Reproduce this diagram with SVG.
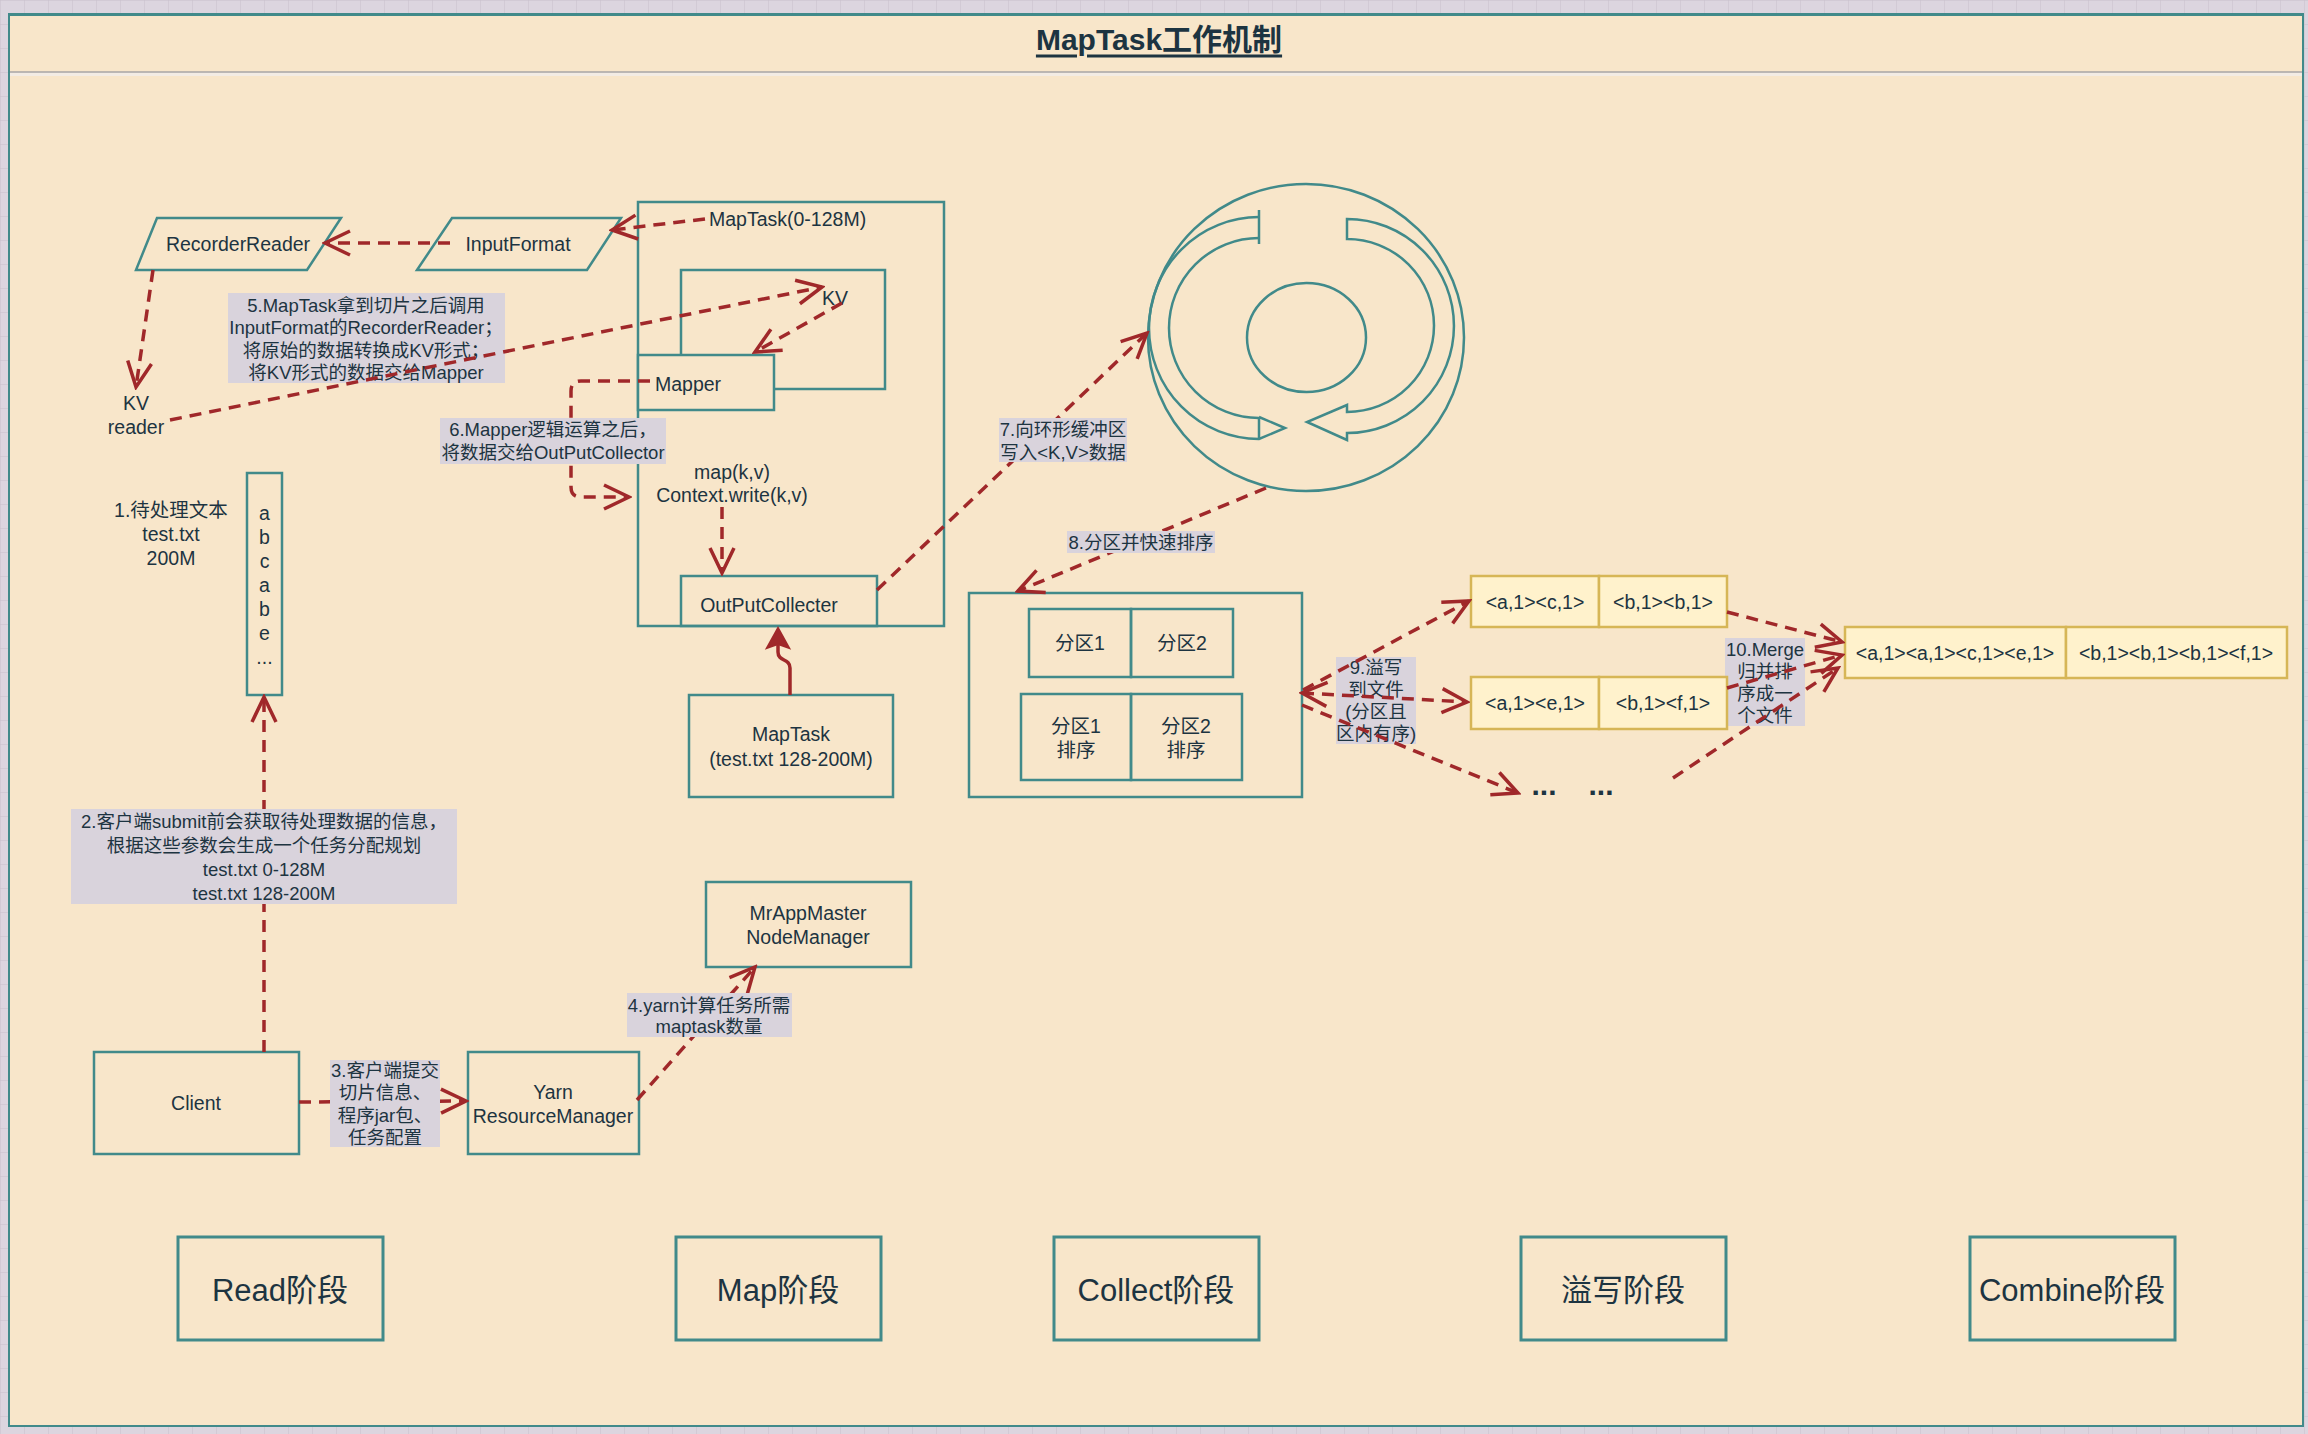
<svg xmlns="http://www.w3.org/2000/svg" width="2308" height="1434" viewBox="0 0 2308 1434">
<defs>
<style>
text{font-family:"Liberation Sans","Noto Sans CJK SC",sans-serif;fill:#1d3441;}
.n{font-size:19.5px;text-anchor:middle;dominant-baseline:central;}
.l{font-size:18.5px;text-anchor:middle;dominant-baseline:central;}
.st{font-size:31px;text-anchor:middle;dominant-baseline:central;}
.box{fill:none;stroke:#418a8a;stroke-width:2.5;}
.stage{fill:none;stroke:#418a8a;stroke-width:3;}
.file{fill:#fff2cc;stroke:#d6b656;stroke-width:2.5;}
.lbg{fill:#d9d3dc;}
.e{fill:none;stroke:#a0282a;stroke-width:3.5;stroke-dasharray:12 8;}
.s{fill:none;stroke:#a0282a;stroke-width:3.5;}
.dots{font-size:30px;font-weight:bold;text-anchor:middle;dominant-baseline:central;}
</style>
<marker id="oa" viewBox="0 0 32 32" refX="29" refY="16" markerWidth="32" markerHeight="32" orient="auto-start-reverse" markerUnits="userSpaceOnUse">
<path d="M4 4 L29 16 L4 28" fill="none" stroke="#a0282a" stroke-width="3.5" stroke-dasharray="none"/>
</marker>
<pattern id="grid" width="24" height="24" patternUnits="userSpaceOnUse">
<rect width="24" height="24" fill="#dcd5df"/>
<path d="M0 0 V24 M0 0 H24" stroke="#c8c0cb" stroke-width="1"/>
</pattern>
</defs>

<rect x="0" y="0" width="2308" height="1434" fill="url(#grid)"/>
<rect x="9" y="14" width="2294" height="1412" fill="#f8e6ca" stroke="#418a8a" stroke-width="2"/>
<line x1="9" y1="14.5" x2="2303" y2="14.5" stroke="#418a8a" stroke-width="3"/>
<rect x="10" y="72" width="2292" height="4" fill="#f3ece4"/>
<line x1="10" y1="72" x2="2302" y2="72" stroke="#a9a6a6" stroke-width="1.5"/>

<g id="title">
<text x="1159" y="39" style="font-size:30px;font-weight:bold;text-anchor:middle;dominant-baseline:central;text-decoration:underline;">MapTask工作机制</text>
</g>

<g id="labels-under">
<g id="label5"><rect class="lbg" x="228" y="293" width="277" height="90"/>
<text class="l" x="366" y="305">5.MapTask拿到切片之后调用</text>
<text class="l" x="366" y="327">InputFormat的RecorderReader；</text>
<text class="l" x="366" y="350">将原始的数据转换成KV形式；</text>
<text class="l" x="366" y="372">将KV形式的数据交给Mapper</text></g>
<g id="label9"><rect class="lbg" x="1336" y="657" width="80" height="87"/>
<text class="l" x="1376" y="667">9.溢写</text>
<text class="l" x="1376" y="689">到文件</text>
<text class="l" x="1376" y="711">(分区且</text>
<text class="l" x="1376" y="733">区内有序)</text></g>
<g id="label10"><rect class="lbg" x="1725" y="638" width="80" height="88"/>
<text class="l" x="1765" y="649">10.Merge</text>
<text class="l" x="1765" y="671">归并排</text>
<text class="l" x="1765" y="693">序成一</text>
<text class="l" x="1765" y="715">个文件</text></g>
</g>

<g id="recorderreader"><polygon class="box" points="157,218 341,218 307,270 136,270"/><text class="n" x="238" y="244">RecorderReader</text></g>
<g id="inputformat"><polygon class="box" points="452,218 621,218 587,270 417,270"/><text class="n" x="518" y="244">InputFormat</text></g>
<g id="kvreader"><text class="n" x="136" y="403">KV</text><text class="n" x="136" y="427">reader</text></g>

<g id="maptask1"><rect class="box" x="638" y="202" width="306" height="424"/><text x="709" y="219" style="font-size:19.5px;dominant-baseline:central;">MapTask(0-128M)</text></g>
<g id="kvbox"><rect class="box" x="681" y="270" width="204" height="119"/><text class="n" x="835" y="298">KV</text></g>
<g id="mapper"><rect x="638" y="355" width="136" height="55" fill="#f8e6ca" stroke="#418a8a" stroke-width="2.5"/><text x="655" y="384" style="font-size:19.5px;dominant-baseline:central;">Mapper</text></g>
<g id="mapfunc"><text class="n" x="732" y="472">map(k,v)</text><text class="n" x="732" y="495">Context.write(k,v)</text></g>
<g id="outputcollecter"><rect class="box" x="681" y="576" width="196" height="50"/><text class="n" x="769" y="605">OutPutCollecter</text></g>
<g id="maptask2"><rect class="box" x="689" y="695" width="204" height="102"/><text class="n" x="791" y="734">MapTask</text><text class="n" x="791" y="759">(test.txt 128-200M)</text></g>

<g id="textfile"><text class="n" x="171" y="510">1.待处理文本</text><text class="n" x="171" y="534">test.txt</text><text class="n" x="171" y="558">200M</text></g>
<g id="textbox"><rect class="box" x="247" y="473" width="35" height="222"/>
<text class="n" x="264.5" y="513">a</text><text class="n" x="264.5" y="537">b</text><text class="n" x="264.5" y="561">c</text><text class="n" x="264.5" y="585">a</text><text class="n" x="264.5" y="609">b</text><text class="n" x="264.5" y="633">e</text><text class="n" x="264.5" y="657">...</text></g>

<g id="ringbuffer">
<ellipse class="box" cx="1306" cy="337.5" rx="158" ry="153.5"/>
<ellipse class="box" cx="1306.5" cy="337.5" rx="59.5" ry="54.5"/>
<path class="box" d="M1259 217 A110 111 0 0 0 1259 439 L1285 428 L1259 417"/>
<path class="box" d="M1259 238 A90 90 0 0 0 1259 418"/>
<path class="box" d="M1259 210 L1259 244 M1259 417 L1259 439"/>
<path class="box" d="M1347 219 A107 107 0 0 1 1347 433 L1347 440 L1307 422 L1347 405 L1347 412 A87 86.5 0 0 0 1347 239 Z"/>
</g>

<g id="partition"><rect class="box" x="969" y="593" width="333" height="204"/></g>
<g id="part1"><rect class="box" x="1029" y="609" width="102" height="68"/><text class="n" x="1080" y="643">分区1</text></g>
<g id="part2"><rect class="box" x="1131" y="609" width="102" height="68"/><text class="n" x="1182" y="643">分区2</text></g>
<g id="sort1"><rect class="box" x="1021" y="694" width="110" height="86"/><text class="n" x="1076" y="726">分区1</text><text class="n" x="1076" y="750">排序</text></g>
<g id="sort2"><rect class="box" x="1131" y="694" width="111" height="86"/><text class="n" x="1186" y="726">分区2</text><text class="n" x="1186" y="750">排序</text></g>

<g id="file1"><rect class="file" x="1471" y="576" width="128" height="51"/><rect class="file" x="1599" y="576" width="128" height="51"/>
<text class="n" x="1535" y="602">&lt;a,1&gt;&lt;c,1&gt;</text><text class="n" x="1663" y="602">&lt;b,1&gt;&lt;b,1&gt;</text></g>
<g id="file2"><rect class="file" x="1471" y="677" width="128" height="52"/><rect class="file" x="1599" y="677" width="128" height="52"/>
<text class="n" x="1535" y="703">&lt;a,1&gt;&lt;e,1&gt;</text><text class="n" x="1663" y="703">&lt;b,1&gt;&lt;f,1&gt;</text></g>
<g id="fileetc"><text class="dots" x="1544" y="784">...</text><text class="dots" x="1601" y="784">...</text></g>
<g id="merged"><rect class="file" x="1845" y="627" width="221" height="51"/><rect class="file" x="2066" y="627" width="221" height="51"/>
<text class="n" x="1955" y="653">&lt;a,1&gt;&lt;a,1&gt;&lt;c,1&gt;&lt;e,1&gt;</text><text class="n" x="2176" y="653">&lt;b,1&gt;&lt;b,1&gt;&lt;b,1&gt;&lt;f,1&gt;</text></g>

<g id="client"><rect class="box" x="94" y="1052" width="205" height="102"/><text class="n" x="196" y="1103">Client</text></g>
<g id="yarn"><rect class="box" x="468" y="1052" width="171" height="102"/><text class="n" x="553" y="1092">Yarn</text><text class="n" x="553" y="1116">ResourceManager</text></g>
<g id="mrappmaster"><rect class="box" x="706" y="882" width="205" height="85"/><text class="n" x="808" y="913">MrAppMaster</text><text class="n" x="808" y="937">NodeManager</text></g>

<g id="connectors">
<path class="e" d="M705 219 L612 230" marker-end="url(#oa)"/>
<path class="e" d="M450 243 L325 243" marker-end="url(#oa)"/>
<path class="e" d="M153 270 L136 387" marker-end="url(#oa)"/>
<path class="e" d="M170 420 L822 287" marker-end="url(#oa)"/>
<path class="e" d="M842 303 L755 352" marker-end="url(#oa)"/>
<path class="e" d="M650 381 L581 381 Q571 381 571 391 L571 487 Q571 497 581 497 L629 497" marker-end="url(#oa)"/>
<path class="e" d="M722 507 L722 573" marker-end="url(#oa)"/>
<path class="s" d="M790 695 L790 668 C790 658 778 662 778 652 L778 644"/>
<polygon points="778,628 789,648 778,644 767,648" fill="#a0282a" stroke="#a0282a" stroke-width="2"/>
<path class="e" d="M877 590 L1147 333" marker-end="url(#oa)"/>
<path class="e" d="M1266 488 L1018 591" marker-end="url(#oa)"/>
<path class="e" d="M1303 690 L1469 601" marker-end="url(#oa)"/>
<path class="e" d="M1302 693 L1467 702" marker-start="url(#oa)" marker-end="url(#oa)"/>
<path class="e" d="M1302 705 L1518 793" marker-end="url(#oa)"/>
<path class="e" d="M1727 612 L1842 642" marker-end="url(#oa)"/>
<path class="e" d="M1727 688 L1842 655" marker-end="url(#oa)"/>
<path class="e" d="M1673 778 L1838 668" marker-end="url(#oa)"/>
<path class="e" d="M264 1052 L264 697" marker-end="url(#oa)"/>
<path class="e" d="M299 1102 L466 1101" marker-end="url(#oa)"/>
<path class="e" d="M637 1100 L755 967" marker-end="url(#oa)"/>
</g>

<g id="labels-over">
<g id="label6"><rect class="lbg" x="440" y="418" width="226" height="46"/>
<text class="l" x="553" y="429">6.Mapper逻辑运算之后，</text>
<text class="l" x="553" y="452">将数据交给OutPutCollector</text></g>
<g id="label7"><rect class="lbg" x="999" y="418" width="128" height="44"/>
<text class="l" x="1063" y="429">7.向环形缓冲区</text>
<text class="l" x="1063" y="452">写入&lt;K,V&gt;数据</text></g>
<g id="label8"><rect class="lbg" x="1067" y="531" width="148" height="22"/>
<text class="l" x="1141" y="542">8.分区并快速排序</text></g>
<g id="label2"><rect class="lbg" x="71" y="809" width="386" height="95"/>
<text class="l" x="264" y="821">2.客户端submit前会获取待处理数据的信息，</text>
<text class="l" x="264" y="845">根据这些参数会生成一个任务分配规划</text>
<text class="l" x="264" y="869">test.txt  0-128M</text>
<text class="l" x="264" y="893">test.txt  128-200M</text></g>
<g id="label3"><rect class="lbg" x="330" y="1060" width="110" height="87"/>
<text class="l" x="385" y="1070">3.客户端提交</text>
<text class="l" x="385" y="1092">切片信息、</text>
<text class="l" x="385" y="1115">程序jar包、</text>
<text class="l" x="385" y="1137">任务配置</text></g>
<g id="label4"><rect class="lbg" x="627" y="993" width="165" height="44"/>
<text class="l" x="709" y="1005">4.yarn计算任务所需</text>
<text class="l" x="709" y="1026">maptask数量</text></g>
</g>

<g id="stage-read"><rect class="stage" x="178" y="1237" width="205" height="103"/><text class="st" x="280" y="1290">Read阶段</text></g>
<g id="stage-map"><rect class="stage" x="676" y="1237" width="205" height="103"/><text class="st" x="778" y="1290">Map阶段</text></g>
<g id="stage-collect"><rect class="stage" x="1054" y="1237" width="205" height="103"/><text class="st" x="1156" y="1290">Collect阶段</text></g>
<g id="stage-spill"><rect class="stage" x="1521" y="1237" width="205" height="103"/><text class="st" x="1623" y="1290">溢写阶段</text></g>
<g id="stage-combine"><rect class="stage" x="1970" y="1237" width="205" height="103"/><text class="st" x="2072" y="1290">Combine阶段</text></g>
</svg>
